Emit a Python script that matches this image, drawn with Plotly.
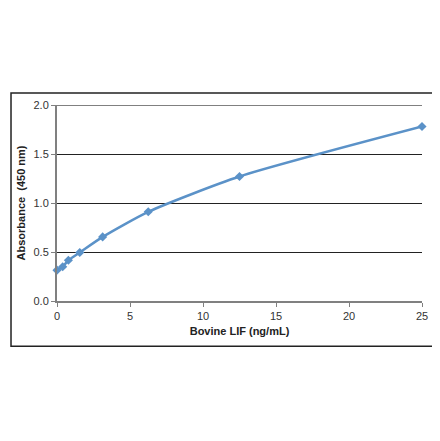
import plotly.graph_objects as go

# standard curve data
conc = [0, 0.39, 0.78, 1.56, 3.125, 6.25, 12.5, 25]
absorbance = [0.315, 0.35, 0.416, 0.495, 0.654, 0.91, 1.27, 1.78]
x_ticks = [0, 5, 10, 15, 20, 25]
y_ticks = [0.0, 0.5, 1.0, 1.5, 2.0]

fig = go.Figure()
fig.add_trace(go.Scatter(
    x=conc, y=absorbance, mode="lines+markers",
    line=dict(color="#5b92c8", width=2.5, shape="spline", smoothing=0.6),
    marker=dict(symbol="diamond", size=7, color="#5b92c8"),
    showlegend=False, cliponaxis=False,
))

# page body adds an 8px offset, so the figure is sized to fit the window
fig.update_layout(
    width=432, height=433,
    margin=dict(l=47, r=18, t=97, b=140),
    paper_bgcolor="white", plot_bgcolor="white",
    font=dict(family="Liberation Sans, Arial, sans-serif", size=11, color="#333"),
)
fig.update_xaxes(
    range=[0, 25], tickvals=x_ticks, ticks="outside", ticklen=4,
    tickcolor="#808080", showline=True, linecolor="#808080", linewidth=2,
    showgrid=False, zeroline=False,
    title=dict(text="<b>Bovine LIF (ng/mL)</b>", font=dict(size=11, color="#222"), standoff=6),
)
fig.update_yaxes(
    range=[0, 2.0], tickvals=y_ticks, tickformat=".1f", ticks="outside", ticklen=4,
    tickcolor="#808080", showline=True, linecolor="#808080", linewidth=2,
    showgrid=True, gridcolor="#222", gridwidth=1, zeroline=False,
    title=dict(text="<b>Absorbance  (450 nm)</b>", font=dict(size=11, color="#222"), standoff=6),
)
# top gridline drawn gray like in the source
fig.add_shape(type="line", xref="paper", yref="y", x0=0, x1=1, y0=2.0, y1=2.0,
              line=dict(color="#808080", width=2))
# outer frame
fig.add_shape(type="rect", xref="paper", yref="paper",
              x0=-0.126, x1=1.041, y0=-0.2315, y1=1.0613,
              line=dict(color="#222", width=1.5), layer="below")

fig.write_html("out.html")
